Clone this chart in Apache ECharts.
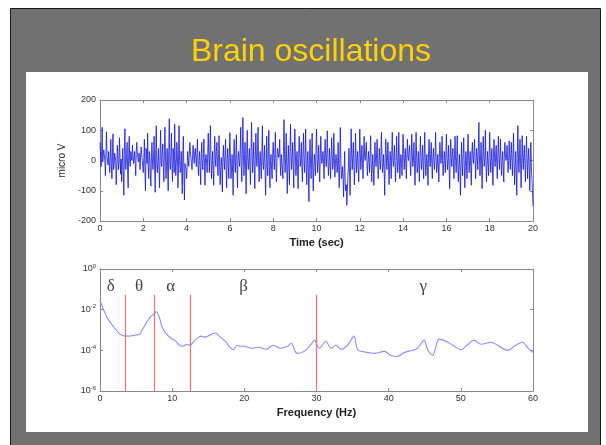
<!DOCTYPE html>
<html>
<head>
<meta charset="utf-8">
<script src="https://cdn.jsdelivr.net/npm/echarts@6/dist/echarts.min.js"></script>
<style>
html,body{margin:0;padding:0;background:#fff;}
#c{width:606px;height:445px;}
</style>
</head>
<body>
<div id="c"></div>
<script>
// ---- data ----
const titleText = 'Brain oscillations';
const sampleStepSec = 0.05;
// EEG trace extremes, micro V, one value every 0.05 s from 0 to 20 s
const eegPeaks = [
 60,-20,110,-10,40,-50,95,5,30,-40,70,-60,88,-20,20,-80,50,-30,75,-45,
 -70,40,-115,105,-30,60,-90,80,-20,15,50,-10,30,-50,60,10,25,-30,45,0,
 -40,70,-100,30,90,-60,20,-85,60,-30,80,-105,115,-40,40,-90,100,-20,55,-70,
 110,-60,40,-100,138,-30,90,-70,20,120,-50,60,-90,115,-40,30,-110,80,-130,-20,
 -60,30,-20,60,10,-30,50,-10,40,-20,70,-50,30,-80,60,-30,71,-82,20,-40,
 90,-40,115,-60,30,-82,80,-20,60,-50,82,-80,10,-104,50,-30,70,-90,40,-60,
 92,-60,20,-115,70,-40,85,-90,30,-20,110,-70,142,-50,60,-110,100,-30,40,-80,
 126,-40,60,-93,90,-20,110,-70,30,-60,115,-30,50,-115,80,-50,100,-90,20,-60,
 60,-30,93,-71,40,10,70,-50,20,-60,135,-40,90,-109,50,-80,120,-30,60,-90,
 104,-50,30,-93,80,-20,60,-70,90,-40,104,-80,30,-136,70,-60,90,-100,20,-50,
 104,-40,50,-71,80,-10,30,-60,70,-20,98,-50,40,-60,75,-30,90,-55,20,-40,
 60,-90,109,-60,-20,-120,30,-100,-148,-50,40,-115,105,-30,60,-80,90,-40,30,-70,
 104,-30,50,-60,80,0,60,-50,30,-40,82,-70,20,-82,60,-20,70,-60,40,-30,
 93,-40,20,-115,70,-30,60,-80,30,-60,93,-20,50,-71,80,-40,93,-60,20,-50,
 87,-30,40,-60,70,0,50,-50,87,-20,60,-82,93,-40,30,-70,80,-30,50,-60,
 93,-50,20,-82,70,-20,60,-60,40,-30,93,-40,20,-71,60,-10,80,-50,30,-40,
 87,-30,50,-93,70,-20,40,-60,80,-40,82,-70,20,-115,60,-50,75,-90,30,-60,
 87,-40,30,-82,60,-10,70,-60,40,-30,126,-50,60,-93,80,-20,100,-70,30,-50,
 93,-40,40,-82,70,-20,50,-60,80,-30,71,-50,30,-71,60,0,50,-40,65,-30,
 60,-50,90,-80,30,-115,115,-40,70,-90,82,-30,50,-70,80,-60,40,-100,60,-60,
 -150
];
// EEG core (dark band) values, micro V, half-way between the samples above
const eegMid = [
 20,30,-5,35,0,25,10,-15,25,10,-10,15,-30,25,0,-20,15,-5,10,5,
 -10,-40,20,-20,10,-30,20,-10,30,0,20,5,-10,30,20,-5,10,15,20,-20,
 10,-30,40,-10,-20,30,-40,10,-10,20,-30,35,-20,0,-30,20,-10,25,-20,30,
 10,-20,-30,30,-10,20,-20,40,-40,10,-10,20,-20,0,-30,-40,20,-40,-10,-30,
 -20,0,20,30,-10,15,20,25,10,20,-10,0,-20,10,-10,20,-20,10,-10,20,
 20,40,10,-10,-30,20,10,30,-10,20,-20,-30,-20,10,0,20,-30,0,-10,20,
 10,-30,-40,20,-10,20,-20,10,0,30,-20,30,20,10,-30,20,0,10,-20,30,
 30,10,-20,20,10,30,-10,0,-20,20,-10,10,-30,-10,-20,30,-20,0,-30,20,
 10,20,-10,0,30,20,-10,20,-30,30,20,10,-20,-10,-20,30,20,10,-20,30,
 20,-10,-30,10,20,10,-20,30,0,20,-20,-10,-40,0,-10,20,-30,-20,-10,30,
 20,0,-20,20,10,-10,-10,20,10,20,10,-20,0,10,20,-10,10,-10,0,-20,
 -30,-10,0,-50,-60,-40,-70,-80,-100,-20,-40,-10,20,10,-10,-20,20,0,-20,10,
 20,10,-10,20,10,30,0,-10,0,20,-10,-20,-30,-10,10,20,-10,-20,0,10,
 20,-20,-30,10,20,0,-10,-20,0,20,10,10,-10,0,10,-10,10,-10,-10,20,
 20,10,-10,20,10,30,0,10,20,0,-10,0,10,-20,-10,10,10,0,-10,20,
 0,-10,-20,20,10,20,-10,10,0,10,10,-20,-10,10,20,10,0,-10,0,20,
 10,0,-20,10,10,20,-10,20,0,10,-10,-20,-30,-10,-10,20,-10,-20,0,20,
 10,0,-20,20,10,30,0,0,10,30,20,0,-10,10,20,10,0,-10,-10,20,
 10,0,-20,10,10,20,-10,20,10,20,-10,0,-20,10,20,10,0,0,10,20,
 0,20,-10,-20,-30,10,20,10,-10,0,10,20,-10,10,10,0,-20,-10,-20,-60
];
// Power spectrum: frequency (Hz) and log10(power)
const specFreq = [0,0.5,1,1.5,2,2.5,3,3.5,4,4.5,5,5.5,6,6.5,7,7.5,7.8,8.2,8.6,9,9.5,10,10.5,11,11.5,12,12.5,13,13.5,14,14.5,15,15.5,16,16.5,17,17.5,18,18.5,19,19.5,20,21,22,23,24,25,26,26.5,27.3,28.3,29.2,29.7,30.4,31.3,32,32.7,33.4,34.3,35.2,35.7,36.7,38.1,39.4,40.3,41.2,42.2,43.3,44,44.9,45.4,46.1,47,48.2,49.1,50,51,51.8,52.8,54.2,55.1,56.5,57.4,58.5,59.5,60];
const specLog10 = [-1.55,-2.0,-2.4,-2.65,-2.9,-3.1,-3.25,-3.3,-3.3,-3.28,-3.25,-3.2,-2.9,-2.6,-2.35,-2.2,-2.1,-2.35,-2.85,-3.1,-3.3,-3.45,-3.55,-3.75,-3.8,-3.7,-3.75,-3.55,-3.4,-3.3,-3.35,-3.3,-3.2,-3.15,-3.3,-3.45,-3.6,-3.85,-3.97,-3.75,-3.8,-3.8,-3.9,-3.85,-3.95,-3.75,-3.9,-3.8,-3.65,-4.15,-4.05,-3.73,-3.5,-3.9,-3.55,-3.9,-3.75,-3.95,-3.75,-3.3,-3.97,-4.08,-4.15,-4.05,-4.25,-4.3,-4.1,-4.0,-3.9,-3.5,-3.97,-4.25,-3.45,-3.6,-3.8,-3.97,-3.7,-3.5,-3.7,-3.6,-3.75,-4.0,-3.8,-3.6,-3.97,-4.1];
// Band boundaries (Hz) and band symbols
const bandEdges = [3.5, 7.5, 12.5, 30];
const bandEdgeTopLog10 = -1.27;
const bandNames = ['δ','θ','α','β','γ'];
const bandLabelFreq = [1.5, 5.4, 9.8, 19.9, 44.8];
const bandLabelLog10 = -0.88;
// ticks
const timeTicks = {min:0, max:20, interval:2};
const voltTicks = {min:-200, max:200, interval:100};
const freqTicks = {min:0, max:60, interval:10};
const powTicks = {min:-6, max:0, interval:2};

// ---- chart ----
const chart = echarts.init(document.getElementById('c'), null, {renderer:'canvas'});
const axisGray = '#8a8a8a';
const lblStyle = {fontFamily:'Arial, Liberation Sans, sans-serif', fontSize:9, color:'#333'};

function xAx(grid, t, name, top){
  return {
    type:'value', gridIndex:grid, min:t.min, max:t.max, interval:t.interval,
    position: top ? 'top' : 'bottom',
    axisLine:{show:true, onZero:false, lineStyle:{color:axisGray, width:1}},
    axisTick:{show:true, inside:true, length:3, lineStyle:{color:axisGray}},
    axisLabel:Object.assign({show:!top, margin:3}, lblStyle),
    splitLine:{show:false},
    name: top ? '' : name, nameLocation:'middle', nameGap:16,
    nameTextStyle:{fontFamily:'Arial, Liberation Sans, sans-serif', fontSize:11, fontWeight:'bold', color:'#222'}
  };
}
function yAx(grid, t, name, right, fmt){
  return {
    type:'value', gridIndex:grid, min:t.min, max:t.max, interval:t.interval,
    position: right ? 'right' : 'left',
    axisLine:{show:true, onZero:false, lineStyle:{color:axisGray, width:1}},
    axisTick:{show:true, inside:true, length:3, lineStyle:{color:axisGray}},
    axisLabel:Object.assign({show:!right, margin:4, formatter:fmt,
      rich:{sup:{fontSize:6, verticalAlign:'top', padding:[0,0,6,0], color:'#333', fontFamily:'Arial, Liberation Sans, sans-serif'}}}, lblStyle),
    splitLine:{show:false},
    name: right ? '' : name, nameLocation:'middle', nameGap:26,
    nameTextStyle:{fontFamily:'Arial, Liberation Sans, sans-serif', fontSize:10, color:'#222'}
  };
}

// combine the two sample sets in time order
const eegData = [];
eegPeaks.forEach((v,i)=>{
  eegData.push([i*sampleStepSec, v]);
  if (i < eegMid.length) eegData.push([(i+0.5)*sampleStepSec, eegMid[i]]);
});
const specData = specFreq.map((f,i)=>[f, specLog10[i]]);

chart.setOption({
  animation:false,
  backgroundColor:'#ffffff',
  graphic:[
    {type:'rect', shape:{x:10.5,y:8.5,width:590,height:440}, style:{fill:'#717171', stroke:'#1a1a1a', lineWidth:1}, z:-10},
    {type:'rect', shape:{x:26,y:72,width:562,height:360}, style:{fill:'#ffffff'}, z:-9},
    {type:'text', x:311, y:68, style:{text:titleText, fill:'#ffd200', align:'center', verticalAlign:'bottom',
      font:'32px "Liberation Sans", Arial, sans-serif'}}
  ],
  grid:[
    {left:100, top:100, width:433, height:121},
    {left:100, top:269, width:433, height:122}
  ],
  xAxis:[
    xAx(0, timeTicks, 'Time (sec)', false),
    xAx(0, timeTicks, '', true),
    xAx(1, freqTicks, 'Frequency (Hz)', false),
    xAx(1, freqTicks, '', true)
  ],
  yAxis:[
    yAx(0, voltTicks, 'micro V', false),
    yAx(0, voltTicks, '', true),
    yAx(1, powTicks, '', false, v => '10{sup|' + v + '}'),
    yAx(1, powTicks, '', true)
  ],
  series:[
    {type:'line', xAxisIndex:0, yAxisIndex:0, data:eegData, showSymbol:false, symbol:'none',
     lineStyle:{color:'#1414d4', width:0.8}},
    {type:'line', xAxisIndex:2, yAxisIndex:2, data:specData, showSymbol:false, symbol:'none', smooth:0.3,
     lineStyle:{color:'#8a8cff', width:1.1},
     markLine:{silent:true, symbol:['none','none'], label:{show:false},
       lineStyle:{color:'#f07070', width:1.2, type:'solid'},
       data: bandEdges.map(f=>[{coord:[f, bandEdgeTopLog10]},{coord:[f, powTicks.min]}])}},
    {type:'scatter', xAxisIndex:2, yAxisIndex:2, symbolSize:0,
     data: bandNames.map((n,i)=>({name:n, value:[bandLabelFreq[i], bandLabelLog10]})),
     label:{show:true, position:'inside', formatter:p=>p.name,
       fontFamily:'"Liberation Serif", "DejaVu Serif", serif', fontSize:17, color:'#111'}}
  ]
});
</script>
</body>
</html>
